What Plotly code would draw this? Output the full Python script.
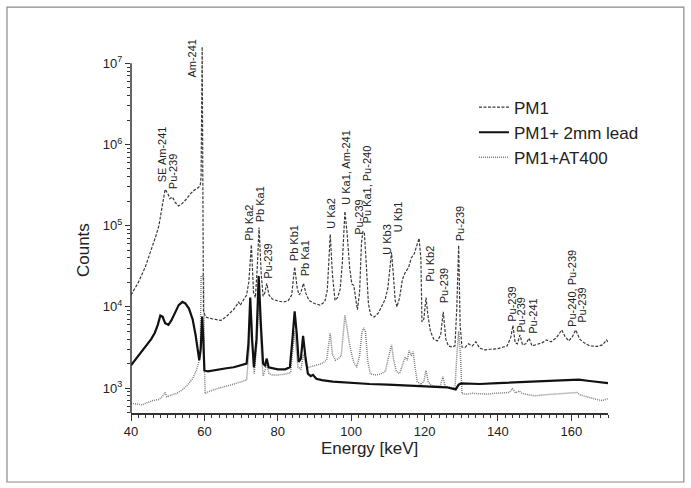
import math
import plotly.graph_objects as go

# ---------------- data ----------------
pm1_energy = [40.0, 42.0, 43.9, 45.5, 46.8, 47.6, 48.4, 49.3, 50.0, 50.6, 51.3, 52.0, 52.9, 53.8, 55.0, 56.3,
              57.3, 58.4, 58.9, 59.1, 59.4, 59.75, 60.3, 61.5, 63.0, 64.5, 66.0, 67.0, 68.0, 68.8, 69.3, 69.8,
              70.7, 71.5, 72.1, 72.8, 73.4, 73.9, 74.4, 74.9, 75.5, 76.0, 76.5, 77.0, 77.6, 78.5, 80.0, 81.5,
              82.8, 83.8, 84.6, 85.3, 85.8, 86.3, 87.0, 87.7, 88.5, 90.0, 91.5, 92.8, 93.5, 94.3, 94.9, 95.6,
              96.3, 97.0, 97.6, 98.3, 98.9, 99.6, 100.2, 100.7, 101.2, 101.7, 102.3, 102.8, 103.2, 103.6, 104.1,
              104.7, 105.3, 106.3, 107.5, 108.5, 109.3, 110.0, 110.6, 111.0, 111.5, 112.0, 112.5, 113.2, 114.0,
              114.8, 115.6, 116.4, 117.2, 117.8, 118.5, 119.0, 119.3, 119.8, 120.4, 120.9, 121.6, 122.5, 123.5,
              124.4, 125.1, 125.8, 126.5, 127.5, 128.3, 128.8, 129.3, 129.7, 130.2, 131.0, 132.0, 133.0, 134.0,
              135.0, 136.5, 138.0, 140.0, 141.5, 142.5, 143.5, 144.1, 144.7, 145.3, 146.0, 146.7, 147.6, 148.5,
              149.3, 150.5, 152.0, 153.2, 154.5, 156.0, 157.4, 158.3, 159.3, 160.3, 161.2, 162.3, 163.5, 165.0,
              167.0, 168.5, 169.6, 170.0]
pm1_counts = [14000, 20000, 31000, 50000, 75000, 100000, 170000, 280000, 250000, 215000, 225000, 195000, 175000,
              185000, 210000, 250000, 275000, 295000, 320000, 400000, 16000000, 9000, 7500, 7200, 7000, 6800, 7600,
              8500, 9300, 10500, 11500, 10500, 12000, 14000, 20000, 58000, 15000, 13000, 30000, 95000, 25000,
              13500, 15000, 19500, 14000, 12500, 11800, 11500, 11800, 14000, 31000, 17000, 14000, 15000, 19500,
              14500, 12000, 11000, 10500, 11500, 16000, 78000, 25000, 12000, 13000, 16500, 35000, 150000, 80000,
              30000, 19000, 18500, 13000, 9200, 15000, 60000, 85000, 82000, 35000, 11000, 8000, 7500, 8500, 10500,
              12500, 17000, 30000, 47000, 25000, 12000, 10000, 13000, 22000, 27000, 30000, 40000, 45000, 55000,
              70000, 40000, 6500, 7000, 13000, 8000, 5000, 4000, 3800, 4500, 8700, 4000, 3300, 3200, 3300, 10000,
              57000, 6000, 3200, 3150, 3500, 3300, 3700, 3100, 2950, 3000, 3050, 3200, 3300, 4200, 5900, 3600,
              3500, 4500, 3400, 3500, 4100, 3300, 3400, 3600, 3900, 3700, 4200, 5200, 4300, 3800, 4300, 5200,
              4000, 3600, 3300, 3250, 3400, 3900, 3700]

lead_energy = [40.0, 42.0, 44.0, 45.5, 46.5, 47.3, 48.0, 48.6, 49.3, 50.2, 51.0, 52.0, 53.0, 54.0, 54.8, 55.8,
               56.8, 57.6, 58.2, 58.6, 59.0, 59.4, 59.7, 60.0, 61.0, 62.5, 64.0, 66.0, 68.0, 70.0, 71.5, 72.0,
               72.5, 73.0, 73.5, 74.2, 74.8, 75.4, 76.0, 76.5, 77.0, 77.5, 78.5, 80.0, 82.0, 83.3, 84.0, 84.6,
               85.2, 85.7, 86.3, 86.9, 87.5, 88.2, 89.0, 89.6, 90.5, 92.0, 95.0, 100.0, 105.0, 110.0, 115.0,
               118.0, 122.0, 126.0, 128.5, 129.3, 130.0, 135.0, 140.0, 144.0, 148.0, 152.0, 156.0, 160.0, 162.0,
               165.0, 168.0, 170.0]
lead_counts = [1900, 2500, 3300, 4000, 4800, 6000, 7800, 7600, 6300, 6000, 6800, 8500, 10500, 11500, 11000, 9500,
               7000, 4500, 2700, 2200, 3000, 7600, 4000, 1650, 1600, 1650, 1700, 1750, 1800, 1900, 2000, 3500,
               13000, 4000, 1800, 4000, 24000, 6000, 2000, 1900, 2300, 1800, 1750, 1700, 1700, 1800, 4000, 8800,
               4500, 2100, 2300, 4400, 2500, 1500, 1400, 1450, 1300, 1250, 1200, 1150, 1120, 1100, 1080, 1050,
               1050, 1020, 960, 1100, 1140, 1120, 1150, 1170, 1200, 1220, 1240, 1280, 1270, 1220, 1180, 1150]

at400_energy = [40.0, 41.5, 43.0, 44.5, 46.0, 47.5, 48.5, 49.3, 49.8, 51.0, 52.5, 54.0, 55.5, 56.8, 57.8, 58.5,
                58.9, 59.1, 59.8, 60.0, 60.2, 61.0, 62.5, 64.0, 66.0, 68.0, 70.0, 71.5, 72.2, 72.7, 73.2, 73.6,
                74.3, 74.9, 75.5, 76.0, 76.6, 77.0, 77.6, 78.5, 80.0, 82.0, 83.5, 84.6, 85.5, 86.3, 87.0, 87.7,
                88.5, 90.0, 92.0, 93.3, 94.3, 94.9, 95.7, 96.5, 97.3, 98.3, 99.0, 99.7, 100.4, 100.9, 101.5,
                102.3, 102.9, 103.4, 103.9, 104.5, 105.2, 106.5, 108.0, 109.3, 110.2, 111.0, 111.6, 112.3, 113.2,
                114.0, 114.7, 115.3, 115.8, 116.4, 116.9, 117.4, 118.0, 119.0, 119.8, 120.4, 121.0, 121.8, 123.0,
                124.3, 125.0, 125.6, 127.0, 128.3, 128.8, 129.3, 129.8, 130.2, 131.5, 133.0, 135.0, 137.0, 139.0,
                141.5, 143.0, 144.0, 144.8, 145.8, 146.5, 148.0, 150.0, 152.0, 154.0, 156.0, 158.0, 160.0, 161.5,
                162.5, 164.0, 165.5, 167.0, 168.5, 170.0]
at400_counts = [650, 640, 620, 660, 700, 720, 780, 880, 780, 820, 860, 950, 1100, 1300, 1650, 2100,
                3000, 24000, 24000, 2000, 850, 900, 950, 1000, 1050, 1120, 1200, 1250, 3000, 9000, 2500, 1500,
                3500, 12000, 3000, 1400, 1700, 2000, 1500, 1450, 1450, 1480, 1550, 5000, 1800, 1700, 2600, 1900,
                1800, 1900, 2000, 2200, 4700, 2600, 2200, 2300, 2500, 7900, 5000, 3200, 2300, 2000, 1800,
                2500, 4700, 5500, 5000, 2200, 1500, 1450, 1480, 1600, 2400, 3400, 2200, 1600, 1500,
                1900, 2400, 2200, 2900, 2500, 2800, 1800, 1200, 1100, 1200, 1650, 1200, 1080, 1050,
                1060, 1380, 1050, 1020, 1000, 2500, 5000, 2500, 850, 840, 860, 850, 840, 860,
                870, 880, 980, 870, 920, 860, 830, 800, 820, 830, 840, 850, 860, 880,
                820, 780, 750, 720, 700, 740]

peak_labels = ["Am-241", "SE Am-241", "Pu-239", "Pb Ka2", "Pb Ka1", "Pu-239", "Pb Kb1", "Pb Ka1", "U Ka2",
               "U Ka1, Am-241", "Pu-239", "Pu Ka1, Pu-240", "U Kb3", "U Kb1", "Pu Kb2", "Pu-239", "Pu-239",
               "Pu-239", "Pu-239", "Pu-241", "Pu-240, Pu-239", "Pu-239"]
label_energy = [56.74, 48.45, 51.32, 72.31, 75.18, 77.36, 84.45, 87.45, 94.27, 98.36, 101.9, 104.36, 109.54,
                112.68, 121.4, 125.22, 129.58, 143.63, 146.27, 149.35, 160.0, 162.72]
label_counts = [6.46e6, 3.33e5, 2.74e5, 6.27e4, 1.07e5, 2.13e4, 3.56e4, 2.32e4, 8.81e4, 1.74e5, 7.43e4,
                1.04e5, 4.22e4, 8.09e4, 1.96e4, 1.08e4, 6.27e4, 6.31e3, 4.75e3, 4.49e3, 5.47e3, 6.14e3]

x_ticks = [40, 60, 80, 100, 120, 140, 160]
y_ticks = [1e3, 1e4, 1e5, 1e6, 1e7]
y_ticktext = ["10<sup>3</sup>", "10<sup>4</sup>", "10<sup>5</sup>", "10<sup>6</sup>", "10<sup>7</sup>"]
series_names = ["PM1", "PM1+ 2mm lead", "PM1+AT400"]

# ---------------- figure ----------------
FONT = "Liberation Sans, Arial, sans-serif"
TXT = "#222222"
YLO, YHI = 2.692, 7.25

fig = go.Figure()
fig.add_trace(go.Scatter(x=at400_energy, y=at400_counts, mode="lines", name=series_names[2],
                         line=dict(color="#7f7f7f", width=1.5, dash="1px,1px"), legendrank=3))
fig.add_trace(go.Scatter(x=pm1_energy, y=pm1_counts, mode="lines", name=series_names[0],
                         line=dict(color="#3a3a3a", width=1.2, dash="3px,1.5px"), legendrank=1))
fig.add_trace(go.Scatter(x=lead_energy, y=lead_counts, mode="lines", name=series_names[1],
                         line=dict(color="#111111", width=2.2), legendrank=2))

minor_y = [k * 10 ** n for n in range(2, 8) for k in range(2, 10)]

fig.update_layout(
    width=691, height=488, autosize=False,
    margin=dict(l=131, r=83, t=43, b=75, pad=0),
    paper_bgcolor="white", plot_bgcolor="white",
    font=dict(family=FONT, color=TXT, size=13),
    showlegend=True,
    legend=dict(x=0.719, y=0.874, xanchor="left", yanchor="top", bgcolor="rgba(0,0,0,0)",
                font=dict(size=17, family=FONT, color=TXT), tracegroupgap=0, traceorder="normal"),
    xaxis=dict(range=[40, 170], tickvals=x_ticks, showgrid=False, zeroline=False, automargin=False,
               showline=True, linecolor="#333333", linewidth=1.5, ticks="outside", ticklen=6,
               tickwidth=1.3, tickcolor="#333333", tickfont=dict(size=13, family=FONT, color=TXT),
               minor=dict(dtick=2, ticks="outside", ticklen=3.5, tickwidth=1, tickcolor="#333333")),
    yaxis=dict(type="log", range=[YLO, YHI], tickmode="array", tickvals=y_ticks, ticktext=y_ticktext,
               showgrid=False, zeroline=False, showline=False, ticks="outside", ticklen=5, tickwidth=1.3,
               automargin=False,
               tickcolor="#333333", tickfont=dict(size=13, family=FONT, color=TXT),
               minor=dict(tickmode="array", tickvals=minor_y, ticks="outside", ticklen=3, tickwidth=1,
                          tickcolor="#333333")),
)

# y axis line (only up to 10^7) and outer frame
fig.add_shape(type="line", xref="paper", yref="y domain", x0=0, x1=0, y0=0,
              y1=(7 - YLO) / (YHI - YLO), line=dict(color="#333333", width=1.5))
fig.add_shape(type="rect", xref="paper", yref="paper", x0=-0.260, x1=1.159, y0=-0.1865, y1=1.097,
              line=dict(color="#8a8a8a", width=1.2), layer="below")

# axis titles
fig.add_annotation(text="Counts", xref="paper", yref="paper", x=-0.1006, y=0.4405, textangle=-90,
                   showarrow=False, xanchor="center", yanchor="middle", font=dict(size=17, family=FONT, color=TXT))
fig.add_annotation(text="Energy [keV]", xref="paper", yref="paper", x=0.499, y=-0.0946,
                   showarrow=False, xanchor="center", yanchor="middle", font=dict(size=17, family=FONT, color=TXT))

# peak labels
for t, e, c in zip(peak_labels, label_energy, label_counts):
    fig.add_annotation(text=t, x=e, y=math.log10(c), xref="x", yref="y", textangle=-90, showarrow=False,
                       xanchor="center", yanchor="bottom", borderpad=0,
                       font=dict(size=11, family=FONT, color=TXT))

fig.write_html("out.html", config={"displayModeBar": False},
               post_script="document.body.style.margin='0px';document.body.style.overflow='hidden';")
